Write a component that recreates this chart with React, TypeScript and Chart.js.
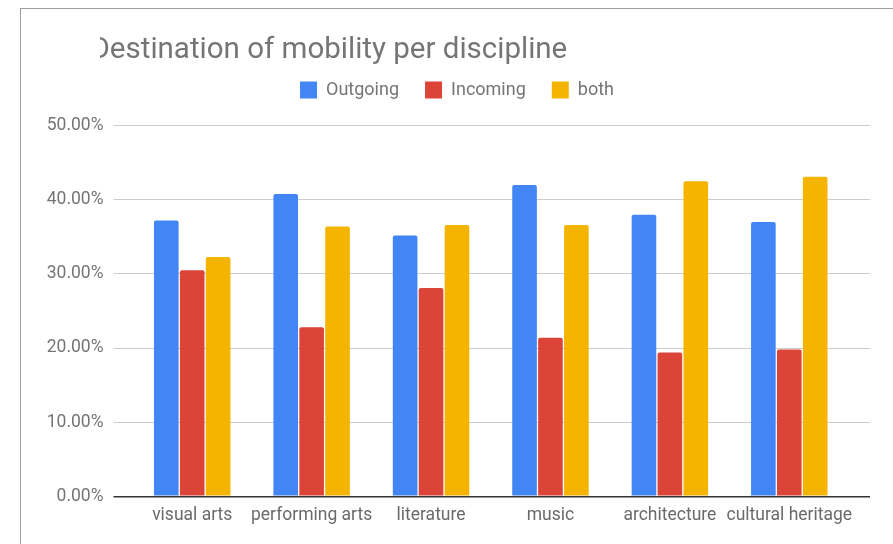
import React, { useEffect, useRef } from 'react';
import { Chart, registerables } from 'chart.js';

Chart.register(...registerables);

const TITLE = 'Destination of mobility per discipline';
const categories = ['visual arts', 'performing arts', 'literature', 'music', 'architecture', 'cultural heritage'];
const seriesNames = ['Outgoing', 'Incoming', 'both'];
const outgoing = [37.2, 40.8, 35.2, 42.0, 38.0, 37.0];
const incoming = [30.5, 22.8, 28.1, 21.4, 19.4, 19.8];
const both = [32.3, 36.4, 36.6, 36.6, 42.5, 43.1];
const seriesColors = ['#4285F4', '#DB4437', '#F4B400'];
const yMin = 0;
const yMax = 50;
const yStep = 10;

const FONT = 'Roboto, "Noto Sans", sans-serif';

const gridColor = (c: any) => (c.tick && c.tick.value === 0 ? '#333333' : '#cccccc');
const gridWidth = (c: any) => (c.tick && c.tick.value === 0 ? 1.5 : 1);

const clippedTitle = {
  id: 'clippedTitle',
  afterDraw(chart: any) {
    const ctx = chart.ctx;
    ctx.save();
    ctx.font = `29.5px ${FONT}`;
    ctx.fillStyle = '#757575';
    ctx.textAlign = 'left';
    ctx.textBaseline = 'alphabetic';
    ctx.fillText(TITLE, 69.5, 48.5);
    ctx.fillStyle = '#ffffff';
    ctx.fillRect(0, 10, 79, 50);
    ctx.restore();
  },
};

const legendSpacer = {
  id: 'legendSpacer',
  beforeLayout(chart: any) {
    const lg = chart.legend;
    if (lg && !lg._patched) {
      const f = lg.fit;
      lg.fit = function () {
        f.call(this);
        this.height = 70.7;
      };
      lg._patched = true;
    }
  },
};

export default function App() {
  const ref = useRef<HTMLCanvasElement>(null);

  useEffect(() => {
    if (!ref.current) return;
    const values = [outgoing, incoming, both];
    const chart = new Chart(ref.current, {
      type: 'bar',
      data: {
        labels: categories,
        datasets: seriesNames.map((name, i) => ({
          label: name,
          data: values[i],
          backgroundColor: seriesColors[i],
          borderWidth: 0,
          borderRadius: 2,
          categoryPercentage: 0.651,
          barPercentage: 0.95,
        })),
      },
      options: {
        responsive: false,
        animation: false,
        devicePixelRatio: 1,
        events: [],
        layout: { padding: { top: 46, left: 0, right: 0, bottom: 0 } },
        plugins: {
          title: { display: false },
          tooltip: { enabled: false },
          legend: {
            display: true,
            position: 'top',
            align: 'center',
            labels: {
              font: { family: FONT, size: 18 },
              color: '#757575',
              boxWidth: 17,
              boxHeight: 17,
              padding: 26,
            },
          },
        },
        scales: {
          x: {
            type: 'category',
            offset: true,
            grid: { display: false, drawTicks: false },
            border: { display: false },
            ticks: {
              font: { family: FONT, size: 17.5 },
              color: '#6a6a6a',
              padding: 9,
              maxRotation: 0,
              minRotation: 0,
              autoSkip: false,
            },
            afterFit: (s: any) => {
              s.height = 47.7;
            },
          },
          y: {
            position: 'left',
            min: yMin,
            max: yMax,
            ticks: {
              stepSize: yStep,
              font: { family: FONT, size: 17.5 },
              color: '#757575',
              padding: 10,
              callback: (v: any) => Number(v).toFixed(2) + '%',
            },
            grid: {
              color: gridColor,
              lineWidth: gridWidth,
              drawTicks: true,
              tickLength: 19,
            },
            border: { display: false },
            afterFit: (s: any) => {
              s.width = 111.5;
            },
          },
          y2: {
            position: 'right',
            min: yMin,
            max: yMax,
            ticks: { display: false, stepSize: yStep },
            grid: {
              color: gridColor,
              lineWidth: gridWidth,
              drawOnChartArea: false,
              drawTicks: true,
              tickLength: 21,
            },
            border: { display: false },
            afterFit: (s: any) => {
              s.width = 44;
            },
          },
        },
      },
      plugins: [legendSpacer, clippedTitle],
    } as any);
    return () => chart.destroy();
  }, []);

  return (
    <div
      style={{
        position: 'fixed',
        left: 20,
        top: 8,
        width: 873,
        height: 536,
        boxSizing: 'border-box',
        borderTop: '1px solid #9e9e9e',
        borderLeft: '1px solid #9e9e9e',
        background: '#ffffff',
      }}
    >
      <canvas ref={ref} width={872} height={535} style={{ display: 'block', width: 872, height: 535 }} />
    </div>
  );
}
